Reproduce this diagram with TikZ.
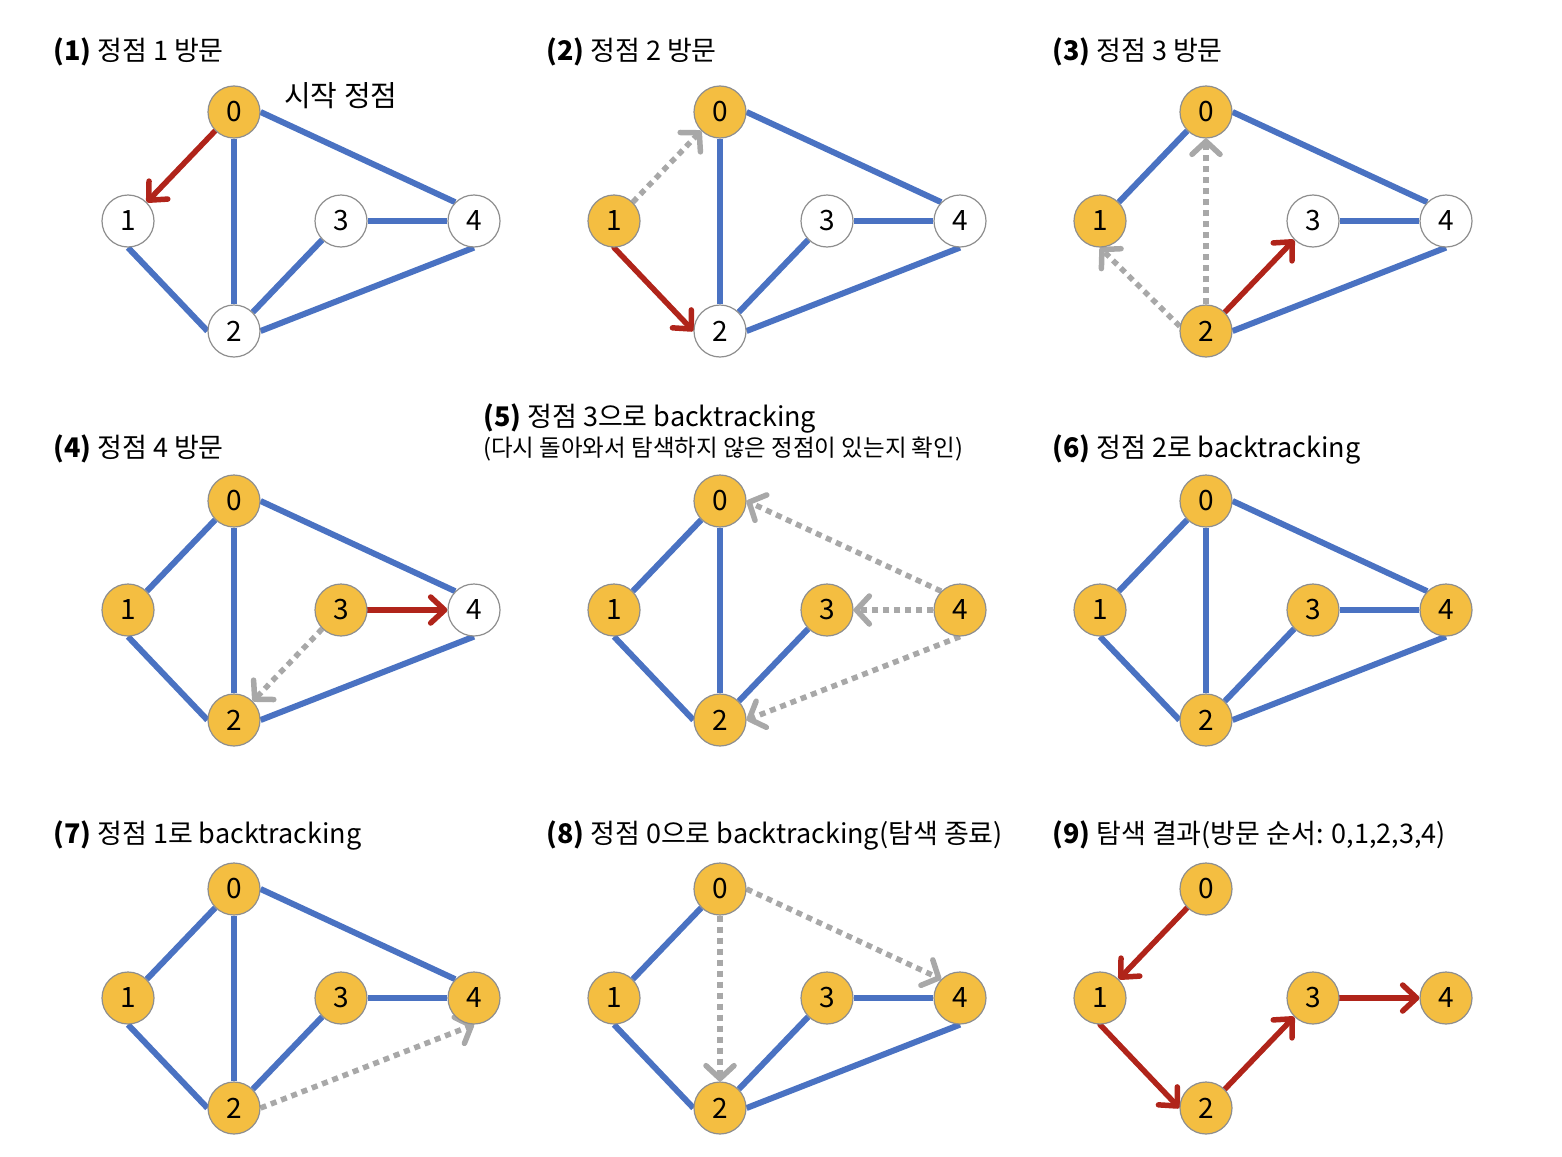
\documentclass[tikz,border=0pt]{standalone}
\usepackage{fontspec}
\setmainfont{Noto Sans CJK KR}
\usetikzlibrary{arrows.meta,backgrounds}
\definecolor{visited}{HTML}{F4BE41}
\definecolor{nodegray}{HTML}{8E8E8E}
\definecolor{edgeblue}{HTML}{4A72C2}
\definecolor{arrred}{HTML}{B0241A}
\definecolor{arrgray}{HTML}{A8A8A8}
\tikzset{
  vnode/.style={circle, draw=nodegray, line width=1.2pt, fill=visited, minimum size=52pt, inner sep=0pt, font=\fontsize{28}{28}\selectfont},
  unode/.style={vnode, fill=white},
  bedge/.style={draw=edgeblue, line width=6pt},
  redarrow/.style={draw=arrred, line width=5.5pt, line cap=round, -{Straight Barb[length=14pt,width=26pt,round]}},
  grayarrow/.style={draw=arrgray, line width=5.5pt, dash pattern=on 6pt off 5pt, -{Straight Barb[length=13pt,width=28pt,round]}},
  ttl/.style={anchor=base west, inner sep=0pt, font=\fontsize{27}{30}\selectfont},
  subttl/.style={anchor=base west, inner sep=0pt, font=\fontsize{23.5}{26}\selectfont},
}
\newcommand\gnodes[8]{%
  \begin{scope}[shift={(#2,#3)}]
    \node[#4] (#1-0) at (234,112) {0};
    \node[#5] (#1-1) at (128,221) {1};
    \node[#6] (#1-2) at (234,331) {2};
    \node[#7] (#1-3) at (341,221) {3};
    \node[#8] (#1-4) at (474,221) {4};
  \end{scope}}
\newcommand\eZO[1]{\draw[bedge] (#1-0.south west) -- (#1-1.north east);}
\newcommand\eZT[1]{\draw[bedge] (#1-0.south) -- (#1-2.north);}
\newcommand\eZF[1]{\draw[bedge] (#1-0.east) -- (#1-4.north west);}
\newcommand\eOT[1]{\draw[bedge] (#1-1.south) -- (#1-2.west);}
\newcommand\eTTh[1]{\draw[bedge] (#1-2.north east) -- (#1-3.south west);}
\newcommand\eThF[1]{\draw[bedge] (#1-3.east) -- (#1-4.west);}
\newcommand\eTF[1]{\draw[bedge] (#1-2.east) -- (#1-4.south);}
\begin{document}
\begin{tikzpicture}[x=1pt,y=-1pt]
\useasboundingbox (0,0) rectangle (1562,1156);
% titles
\node[ttl] (t1) at (53,60) {{\bfseries (1)} 정점 1 방문};
\node[ttl] (t2) at (546,60) {{\bfseries (2)} 정점 2 방문};
\node[ttl] (t3) at (1052,60) {{\bfseries (3)} 정점 3 방문};
\node[ttl] (t4) at (53,457) {{\bfseries (4)} 정점 4 방문};
\node[ttl] (t5) at (483,426) {{\bfseries (5)} 정점 3으로 backtracking};
\node[subttl] (t5b) at (483,456) {(다시 돌아와서 탐색하지 않은 정점이 있는지 확인)};
\node[ttl] (t6) at (1052,457) {{\bfseries (6)} 정점 2로 backtracking};
\node[ttl] (t7) at (53,843) {{\bfseries (7)} 정점 1로 backtracking};
\node[ttl] (t8) at (546,843) {{\bfseries (8)} 정점 0으로 backtracking(탐색 종료)};
\node[ttl] (t9) at (1052,843) {{\bfseries (9)} 탐색 결과(방문 순서: 0,1,2,3,4)};
\node[ttl, font=\fontsize{29}{30}\selectfont] (start) at (284,106) {시작 정점};
% nodes
\gnodes{a}{0}{0}{vnode}{unode}{unode}{unode}{unode}
\gnodes{b}{486}{0}{vnode}{vnode}{unode}{unode}{unode}
\gnodes{c}{972}{0}{vnode}{vnode}{vnode}{unode}{unode}
\gnodes{d}{0}{389}{vnode}{vnode}{vnode}{vnode}{unode}
\gnodes{e}{486}{389}{vnode}{vnode}{vnode}{vnode}{vnode}
\gnodes{f}{972}{389}{vnode}{vnode}{vnode}{vnode}{vnode}
\gnodes{g}{0}{777}{vnode}{vnode}{vnode}{vnode}{vnode}
\gnodes{h}{486}{777}{vnode}{vnode}{vnode}{vnode}{vnode}
\gnodes{i}{972}{777}{vnode}{vnode}{vnode}{vnode}{vnode}
\begin{pgfonlayer}{background}
% panel 1
\eZT{a}\eZF{a}\eOT{a}\eTTh{a}\eThF{a}\eTF{a}
\draw[redarrow] (a-0.south west) -- (a-1.north east);
% panel 2
\eZT{b}\eZF{b}\eTTh{b}\eThF{b}\eTF{b}
\draw[grayarrow] (b-1.north east) -- (b-0.south west);
\draw[redarrow] (b-1.south) -- (b-2.west);
% panel 3
\eZO{c}\eZF{c}\eThF{c}\eTF{c}
\draw[grayarrow] (c-2.north) -- (c-0.south);
\draw[grayarrow] (c-2.170) -- (c-1.south);
\draw[redarrow] (c-2.north east) -- (c-3.south west);
% panel 4
\eZO{d}\eZT{d}\eZF{d}\eOT{d}\eTF{d}
\draw[redarrow] (d-3.east) -- (d-4.west);
\draw[grayarrow] (d-3.south west) -- (d-2.north east);
% panel 5
\eZO{e}\eZT{e}\eOT{e}\eTTh{e}
\draw[grayarrow] (e-4.north west) -- (e-0.east);
\draw[grayarrow] (e-4.west) -- (e-3.east);
\draw[grayarrow] (e-4.south) -- (e-2.east);
% panel 6
\eZO{f}\eZT{f}\eZF{f}\eOT{f}\eTTh{f}\eThF{f}\eTF{f}
% panel 7
\eZO{g}\eZT{g}\eZF{g}\eOT{g}\eTTh{g}\eThF{g}
\draw[grayarrow] (g-2.east) -- (g-4.south);
% panel 8
\eZO{h}\eOT{h}\eTTh{h}\eThF{h}\eTF{h}
\draw[grayarrow] (h-0.south) -- (h-2.north);
\draw[grayarrow] (h-0.east) -- (h-4.north west);
% panel 9
\draw[redarrow] (i-0.south west) -- (i-1.north east);
\draw[redarrow] (i-1.south) -- (i-2.west);
\draw[redarrow] (i-2.north east) -- (i-3.south west);
\draw[redarrow] (i-3.east) -- (i-4.west);
\end{pgfonlayer}
\end{tikzpicture}
\end{document}
